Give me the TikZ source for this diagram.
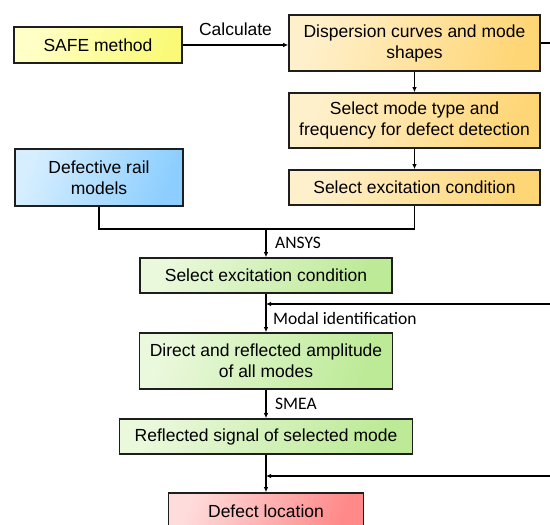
\documentclass[tikz,border=0pt]{standalone}
\usepackage{fontspec}
\setmainfont{Liberation Sans}
\newfontfamily\labelfont{Carlito}
\usetikzlibrary{arrows.meta, calc, positioning}
\definecolor{safelight}{RGB}{255,255,200}
\definecolor{safedark}{RGB}{250,250,120}
\definecolor{orangelight}{RGB}{255,240,204}
\definecolor{orangedark}{RGB}{255,214,118}
\definecolor{bluelight}{RGB}{214,238,255}
\definecolor{bluedark}{RGB}{140,206,255}
\definecolor{greenlight}{RGB}{234,248,220}
\definecolor{greendark}{RGB}{188,234,150}
\definecolor{redlight}{RGB}{255,220,220}
\definecolor{reddark}{RGB}{255,136,136}
\definecolor{edgegray}{RGB}{30,30,30}

\begin{document}
\begin{tikzpicture}[x=1pt, y=-1pt,
    box/.style={draw=edgegray, line width=1.6pt, align=center, inner sep=0pt,
        font=\fontsize{17.5}{21}\selectfont},
    yellowbox/.style={box, left color=safelight, right color=safedark, shading angle=70},
    orangebox/.style={box, left color=orangelight, right color=orangedark, shading angle=70},
    bluebox/.style={box, left color=bluelight, right color=bluedark, shading angle=70},
    greenbox/.style={box, left color=greenlight, right color=greendark, shading angle=70},
    redbox/.style={box, left color=redlight, right color=reddark, shading angle=70},
    link/.style={line width=1.5pt, black},
    arr/.style={link, -{Latex[length=5pt, width=4.5pt]}},
    lbl/.style={font=\labelfont\fontsize{17.5}{21}\selectfont, anchor=west, inner sep=0pt}]
    \clip (0,0) rectangle (550,525);
    \useasboundingbox (0,0) rectangle (550,525);

    % Boxes
    \node[yellowbox, minimum width=168, minimum height=36] (safe) at (98,45) {SAFE method};
    \node[orangebox, minimum width=251, minimum height=56] (disp) at (414.5,43) {Dispersion curves and mode\\shapes};
    \node[orangebox, minimum width=251, minimum height=55] (modesel) at (414.5,120.5) {Select mode type and\\frequency for defect detection};
    \node[orangebox, minimum width=251, minimum height=35] (excite) at (414.5,187.5) {Select excitation condition};
    \node[bluebox, minimum width=168, minimum height=57] (rail) at (99,177.5) {Defective rail\\models};
    \node[greenbox, minimum width=252, minimum height=35] (fem) at (266,275.5) {Select excitation condition};
    \node[greenbox, minimum width=253, minimum height=56] (amp) at (266,361) {Direct and reflected amplitude\\of all modes};
    \node[greenbox, minimum width=293, minimum height=35] (refl) at (266,436.5) {Reflected signal of selected mode};
    \node[redbox, minimum width=195, minimum height=36] (loc) at (266,511) {Defect location};

    % Free ends at the right edge
    \coordinate (dispout) at (550,43);
    \coordinate (fbone) at (550,304);
    \coordinate (fbtwo) at (550,476);
    \coordinate (join) at (266,229);

    % Upper branch
    \draw[arr] (safe.east) -- (safe.east -| disp.west)
        node[midway, above=5pt, font=\fontsize{17.5}{21}\selectfont] (calc) {Calculate};
    \draw[link] (disp.east) -- (dispout);
    \draw[arr] (disp.south) -- (modesel.north);
    \draw[arr] (modesel.south) -- (excite.north);

    % Merge into FE model
    \draw[link] (rail.south) -- (rail.south |- join) -- (excite.south |- join) -- (excite.south);
    \draw[arr] (join) -- (fem.north);
    \node[lbl] (ansys) at ($(join)!0.5!(fem.north) + (9,0)$) {ANSYS};

    % Lower branch
    \draw[arr] (fem.south) -- (amp.north);
    \draw[arr] (fbone) -- (fbone -| fem.south);
    \node[lbl] (modal) at (273,318) {Modal identification};
    \draw[arr] (amp.south) -- (refl.north);
    \node[lbl] (smea) at ($(amp.south)!0.5!(refl.north) + (9,0)$) {SMEA};
    \draw[arr] (refl.south) -- (loc.north);
    \draw[arr] (fbtwo) -- (fbtwo -| refl.south);
\end{tikzpicture}
\end{document}
